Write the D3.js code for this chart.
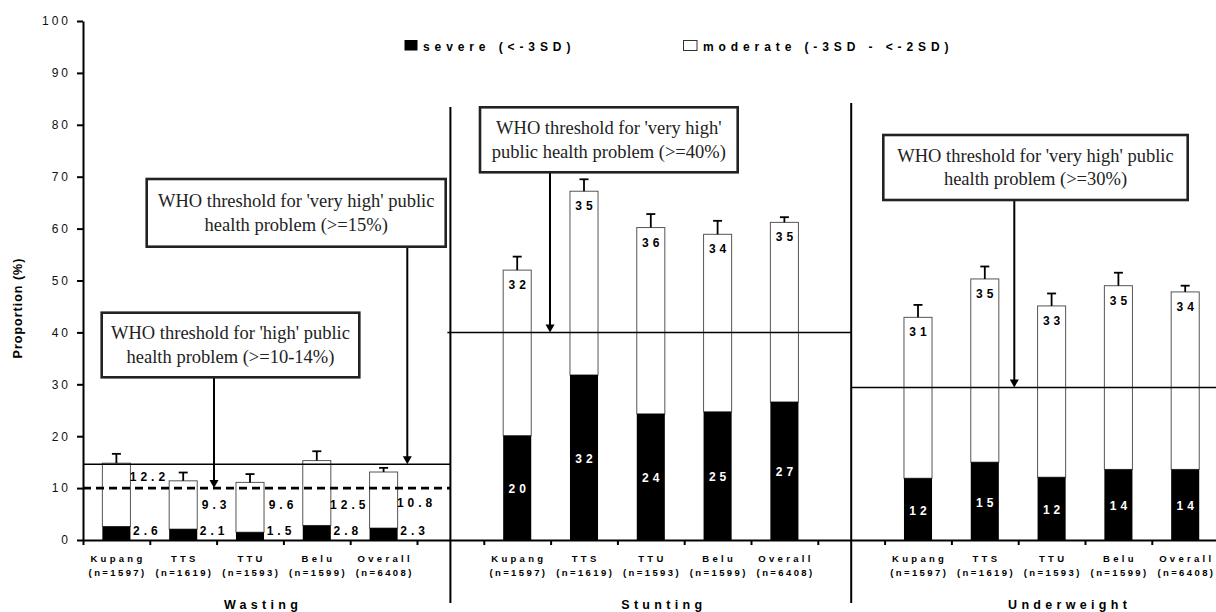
<!DOCTYPE html>
<html><head><meta charset="utf-8">
<script src="https://cdn.jsdelivr.net/npm/d3@7"></script>
<style>
html,body{margin:0;padding:0;background:#fff;}
svg{display:block;font-family:Arial,"Liberation Sans",sans-serif;}
</style></head><body>
<svg id="chart" width="1216" height="612"></svg>
<script>
// ---------------- data ----------------
const districts = ["Kupang", "TTS", "TTU", "Belu", "Overall"];
const sampleSizes = ["(n=1597)", "(n=1619)", "(n=1593)", "(n=1599)", "(n=6408)"];
const indicators = ["Wasting", "Stunting", "Underweight"];
const yTicks = [0, 10, 20, 30, 40, 50, 60, 70, 80, 90, 100];
const legendLabels = ["severe (<-3SD)", "moderate (-3SD - <-2SD)"];

const wastingSevere = [2.6, 2.1, 1.5, 2.8, 2.3];
const wastingModerate = [12.2, 9.3, 9.6, 12.5, 10.8];
const wastingUpper = [16.6, 13.0, 12.7, 17.1, 13.9];

const stuntingSevere = [20.1, 31.8, 24.3, 24.7, 26.6];
const stuntingModerate = [31.9, 35.4, 35.9, 34.2, 34.6];
const stuntingUpper = [54.6, 69.5, 62.8, 61.5, 62.2];

const underweightSevere = [11.9, 15.0, 12.1, 13.6, 13.6];
const underweightModerate = [31.0, 35.3, 33.0, 35.4, 34.2];
const underweightUpper = [45.3, 52.7, 47.5, 51.5, 49.0];

const veryHighLines = [14.6, 40, 29.4];   // drawn threshold lines
const highLine = 10;                        // wasting 'high' threshold (dashed)
const boxTexts = [
  ["WHO threshold for 'high' public", "health problem (>=10-14%)"],
  ["WHO threshold for 'very high' public", "health problem (>=15%)"],
  ["WHO threshold for 'very high'", "public health problem (>=40%)"],
  ["WHO threshold for 'very high' public", "health problem (>=30%)"]
];

// ---------------- layout ----------------
const svg = d3.select("#chart");
const step = 66.8, nSlots = 17, x0 = 83;
const xb = d3.scaleBand().domain(d3.range(nSlots)).range([x0, x0 + nSlots * step]).padding(0);
const xl = d3.scaleLinear().domain([0, nSlots]).range([x0, x0 + nSlots * step]);
const y = d3.scaleLinear().domain([0, 100]).range([540, 21]);
const barW = xb.bandwidth() * 0.42;
const cx = s => xb(s) + xb.bandwidth() / 2;

const panels = [
  {name: indicators[0], start: 0, sev: wastingSevere, mod: wastingModerate, up: wastingUpper},
  {name: indicators[1], start: 6, sev: stuntingSevere, mod: stuntingModerate, up: stuntingUpper},
  {name: indicators[2], start: 12, sev: underweightSevere, mod: underweightModerate, up: underweightUpper}
];
const wastingModLabelLevel = [11.4, 6, 6, 6, 6.4];

const rows = [];
panels.forEach((p, pi) => districts.forEach((d, j) => rows.push({
  pi, j, slot: p.start + j, sev: p.sev[j], mod: p.mod[j], up: p.up[j], total: p.sev[j] + p.mod[j]
})));

// y axis
const yAxis = svg.append("g").attr("transform", `translate(${x0},0)`)
  .call(d3.axisLeft(y).tickValues(yTicks).tickSize(6).tickSizeOuter(0).tickPadding(6));
yAxis.select(".domain").attr("stroke", "#000").attr("stroke-width", 2);
yAxis.selectAll(".tick line").attr("stroke", "#000").attr("stroke-width", 2);
yAxis.selectAll(".tick text").attr("font-size", 12).attr("fill", "#111")
  .style("letter-spacing", "3px").attr("font-family", "Arial, 'Liberation Sans', sans-serif");

// x axis (ticks at band boundaries)
const xAxis = svg.append("g").attr("transform", `translate(0,${y(0)})`)
  .call(d3.axisBottom(xl).tickValues(d3.range(0, nSlots + 1)).tickSize(5).tickSizeOuter(0).tickFormat(""));
xAxis.select(".domain").attr("stroke", "#000").attr("stroke-width", 2);
xAxis.selectAll(".tick line").attr("stroke", "#000").attr("stroke-width", 2);

// y title
svg.append("text").attr("transform", `translate(21.5,308) rotate(-90)`)
  .attr("text-anchor", "middle").attr("font-size", 12.5).attr("font-weight", "bold")
  .style("letter-spacing", "1px").text("Proportion (%)");

// bars
const g = svg.append("g");
g.selectAll("rect.mod").data(rows).join("rect").attr("class", "mod")
  .attr("x", d => cx(d.slot) - barW / 2).attr("width", barW)
  .attr("y", d => y(d.total)).attr("height", d => y(d.sev) - y(d.total))
  .attr("fill", "#fff").attr("stroke", "#555").attr("stroke-width", 1);
g.selectAll("rect.sev").data(rows).join("rect").attr("class", "sev")
  .attr("x", d => cx(d.slot) - barW / 2).attr("width", barW)
  .attr("y", d => y(d.sev)).attr("height", d => y(0) - y(d.sev))
  .attr("fill", "#000");

// error bars
g.selectAll("line.err").data(rows).join("line").attr("class", "err")
  .attr("x1", d => cx(d.slot)).attr("x2", d => cx(d.slot))
  .attr("y1", d => y(d.total)).attr("y2", d => y(d.up))
  .attr("stroke", "#000").attr("stroke-width", 1.8);
g.selectAll("line.cap").data(rows).join("line").attr("class", "cap")
  .attr("x1", d => cx(d.slot) - 4.5).attr("x2", d => cx(d.slot) + 4.5)
  .attr("y1", d => y(d.up)).attr("y2", d => y(d.up))
  .attr("stroke", "#000").attr("stroke-width", 1.8);

// value labels
const lab = svg.append("g").attr("font-size", 12).attr("font-weight", "bold")
  .attr("text-anchor", "middle").style("letter-spacing", "4px");
const fmt1 = d3.format(".1f");
rows.forEach(d => {
  if (d.pi === 0) {
    lab.append("text").attr("x", cx(d.slot) + 33).attr("y", y(wastingModLabelLevel[d.j]))
      .attr("fill", "#000").text(fmt1(d.mod));
    lab.append("text").attr("x", cx(d.slot) + 31).attr("y", y(1))
      .attr("fill", "#000").text(fmt1(d.sev));
  } else {
    lab.append("text").attr("x", cx(d.slot) + 2).attr("y", y(d.total) + 19)
      .attr("fill", "#000").text(Math.round(d.mod));
    lab.append("text").attr("x", cx(d.slot) + 2).attr("y", y(d.sev / 2) + 5.5)
      .attr("fill", "#fff").text(Math.round(d.sev));
  }
});

// threshold lines
const tl = svg.append("g");
tl.append("line").attr("x1", x0).attr("x2", cx(5)).attr("y1", y(veryHighLines[0])).attr("y2", y(veryHighLines[0]))
  .attr("stroke", "#000").attr("stroke-width", 1.5);
tl.append("line").attr("x1", x0).attr("x2", cx(5)).attr("y1", y(highLine)).attr("y2", y(highLine))
  .attr("stroke", "#000").attr("stroke-width", 2.6).attr("stroke-dasharray", "8,5");
tl.append("line").attr("x1", cx(5) - 3).attr("x2", cx(11)).attr("y1", y(veryHighLines[1])).attr("y2", y(veryHighLines[1]))
  .attr("stroke", "#000").attr("stroke-width", 1.5);
tl.append("line").attr("x1", cx(11)).attr("x2", 1216).attr("y1", y(veryHighLines[2])).attr("y2", y(veryHighLines[2]))
  .attr("stroke", "#000").attr("stroke-width", 1.5);

// panel separators
svg.append("line").attr("x1", cx(5)).attr("x2", cx(5)).attr("y1", 107).attr("y2", 603)
  .attr("stroke", "#000").attr("stroke-width", 2);
svg.append("line").attr("x1", cx(11)).attr("x2", cx(11)).attr("y1", 103).attr("y2", 603)
  .attr("stroke", "#000").attr("stroke-width", 2);

// category labels
const cl = svg.append("g").attr("font-size", 9.5).attr("font-weight", "bold")
  .attr("text-anchor", "middle");
rows.forEach(d => {
  cl.append("text").attr("x", cx(d.slot) + 1.6).attr("y", 561.5)
    .style("letter-spacing", "3.3px").text(districts[d.j]);
  cl.append("text").attr("x", cx(d.slot) + 1.2).attr("y", 575.5)
    .style("letter-spacing", "2.4px").text(sampleSizes[d.j]);
});

// panel titles
const titleOffsets = [13, 13, 18];
panels.forEach((p, i) => {
  svg.append("text").attr("x", cx(p.start + 2) + titleOffsets[i]).attr("y", 609)
    .attr("text-anchor", "middle").attr("font-size", 12.5).attr("font-weight", "bold")
    .style("letter-spacing", "4.3px").text(p.name);
});

// legend
svg.append("rect").attr("x", 404.5).attr("y", 40).attr("width", 13).attr("height", 10.5).attr("fill", "#000");
svg.append("text").attr("x", 423).attr("y", 50.5).attr("font-size", 12).attr("font-weight", "bold")
  .style("letter-spacing", "4.9px").text(legendLabels[0]);
svg.append("rect").attr("x", 683.5).attr("y", 40.5).attr("width", 13.5).attr("height", 10)
  .attr("fill", "#fff").attr("stroke", "#333").attr("stroke-width", 1);
svg.append("text").attr("x", 703).attr("y", 50.5).attr("font-size", 12).attr("font-weight", "bold")
  .style("letter-spacing", "4.9px").text(legendLabels[1]);

// annotation boxes with arrows
const boxes = [
  {x: 101.7, y: 312.7, w: 257.6, h: 64.6, ax: 214, ay: y(highLine)},
  {x: 146.7, y: 179, w: 299, h: 67.7, ax: 407.3, ay: y(veryHighLines[0])},
  {x: 480, y: 107.3, w: 257.7, h: 65, ax: 550, ay: y(veryHighLines[1])},
  {x: 883.3, y: 135, w: 304.4, h: 65, ax: 1014.3, ay: y(veryHighLines[2])}
];
const ann = svg.append("g");
boxes.forEach((b, i) => {
  ann.append("line").attr("x1", b.ax).attr("x2", b.ax).attr("y1", b.y + b.h).attr("y2", b.ay - 7)
    .attr("stroke", "#000").attr("stroke-width", 2);
  ann.append("path").attr("d", `M${b.ax - 4.5},${b.ay - 8}L${b.ax + 4.5},${b.ay - 8}L${b.ax},${b.ay}Z`).attr("fill", "#000");
  ann.append("rect").attr("x", b.x).attr("y", b.y).attr("width", b.w).attr("height", b.h)
    .attr("fill", "#fff").attr("stroke", "#222").attr("stroke-width", 2.6);
  const mid = b.y + b.h / 2;
  boxTexts[i].forEach((t, k) => {
    ann.append("text").attr("x", b.x + b.w / 2).attr("y", mid - 5.8 + k * 23.5)
      .attr("text-anchor", "middle").attr("font-family", "'Liberation Serif','Times New Roman',serif")
      .attr("font-size", 18.5).attr("fill", "#222").text(t);
  });
});
</script>
</body></html>
